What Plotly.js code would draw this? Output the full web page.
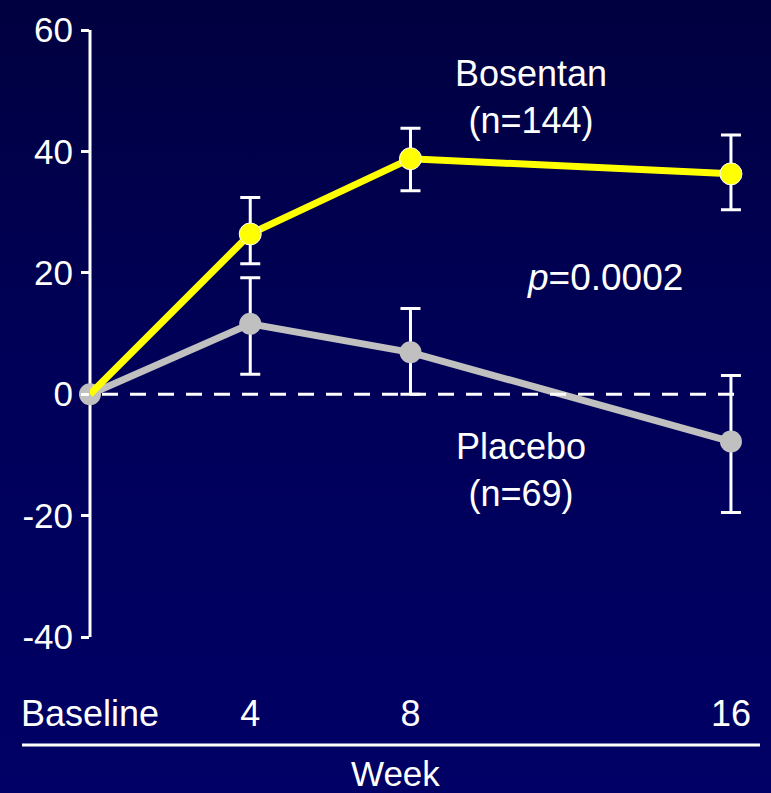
<!DOCTYPE html>
<html>
<head>
<meta charset="utf-8">
<script src="https://cdn.plot.ly/plotly-3.0.1.min.js"></script>
<style>
  html, body { margin: 0; padding: 0; }
  body { width: 771px; height: 793px; background: linear-gradient(to bottom, #000040 0%, #000058 45%, #000066 100%); }
  #chart { width: 771px; height: 793px; }
</style>
</head>
<body>
<div id="chart"></div>
<script>
// Data
var weeks = [0, 4, 8, 16];
var weekLabels = ["Baseline", "4", "8", "16"];
var bosentan = [0, 26.4, 38.8, 36.3];
var bosentanErrPlus = [NaN, 6.0, 5.0, 6.4];
var bosentanErrMinus = [NaN, 4.9, 5.3, 5.9];
var placebo = [0, 11.6, 6.9, -7.8];
var placeboErrPlus = [NaN, 7.6, 7.2, 10.9];
var placeboErrMinus = [NaN, 8.3, 6.9, 11.7];
var yTicks = [-40, -20, 0, 20, 40, 60];
var yTickLabels = ["-40", "-20", "0", "20", "40", "60"];

var FONT = "'Liberation Sans', Arial, sans-serif";

var errStyle = { type: "data", symmetric: false, color: "#ffffff", thickness: 3, width: 10 };

var tracePlacebo = {
  x: weeks, y: placebo, type: "scatter", mode: "lines+markers",
  line: { color: "#c0c0c0", width: 7 },
  marker: { color: "#c0c0c0", size: 22, opacity: 1 },
  error_y: Object.assign({}, errStyle, { array: placeboErrPlus, arrayminus: placeboErrMinus }),
  cliponaxis: false, hoverinfo: "none"
};
var traceBosentan = {
  x: weeks, y: bosentan, type: "scatter", mode: "lines+markers",
  line: { color: "#ffff00", width: 7 },
  marker: { color: "#ffff00", size: [0, 22, 22, 22], opacity: 1 },
  error_y: Object.assign({}, errStyle, { array: bosentanErrPlus, arrayminus: bosentanErrMinus }),
  cliponaxis: false, hoverinfo: "none"
};

var layout = {
  width: 771, height: 793,
  paper_bgcolor: "rgba(0,0,0,0)",
  plot_bgcolor: "rgba(0,0,0,0)",
  margin: { l: 90, r: 8, t: 30, b: 156 },
  showlegend: false,
  font: { family: FONT, color: "#ffffff", size: 36 },
  xaxis: {
    range: [0, 16.8], tickvals: weeks, ticktext: weekLabels,
    showgrid: false, zeroline: false, showline: false, ticks: "",
    ticklabelstandoff: 52,
    tickfont: { family: FONT, size: 36, color: "#ffffff" }
  },
  yaxis: {
    range: [-40, 60], tickvals: yTicks, ticktext: yTickLabels,
    showgrid: false, zeroline: false, showline: false,
    ticks: "outside", ticklen: 8, tickwidth: 3, tickcolor: "#ffffff",
    ticklabelstandoff: 1,
    tickfont: { family: FONT, size: 35, color: "#ffffff" }
  },
  shapes: [
    { type: "line", xref: "paper", yref: "paper", x0: 0, x1: 0, y0: 0, y1: 1,
      line: { color: "#ffffff", width: 3 }, layer: "below" },
    { type: "line", xref: "x", yref: "y", x0: 0.3, x1: 16.2, y0: 0, y1: 0,
      line: { color: "#ffffff", width: 3, dash: "16px,12px" }, layer: "above" },
    { type: "line", xref: "paper", yref: "paper", x0: -0.101, x1: 0.9955, y0: -0.178, y1: -0.178,
      line: { color: "#ffffff", width: 3 } }
  ],
  annotations: [
    { x: 11.0, y: 49, xref: "x", yref: "y", text: "Bosentan<br>(n=144)", showarrow: false,
      font: { family: FONT, size: 36, color: "#ffffff" }, align: "center" },
    { x: 12.85, y: 19.2, xref: "x", yref: "y", text: "<i>p</i>=0.0002", showarrow: false,
      font: { family: FONT, size: 37, color: "#ffffff" } },
    { x: 10.75, y: -12.5, xref: "x", yref: "y", text: "Placebo<br>(n=69)", showarrow: false,
      font: { family: FONT, size: 36, color: "#ffffff" }, align: "center" },
    { x: 0.4535, y: -0.2250, xref: "paper", yref: "paper", text: "Week", showarrow: false,
      font: { family: FONT, size: 35, color: "#ffffff" }, yanchor: "middle" }
  ]
};

Plotly.newPlot("chart", [tracePlacebo, traceBosentan], layout, { displayModeBar: false, staticPlot: true });
</script>
</body>
</html>
